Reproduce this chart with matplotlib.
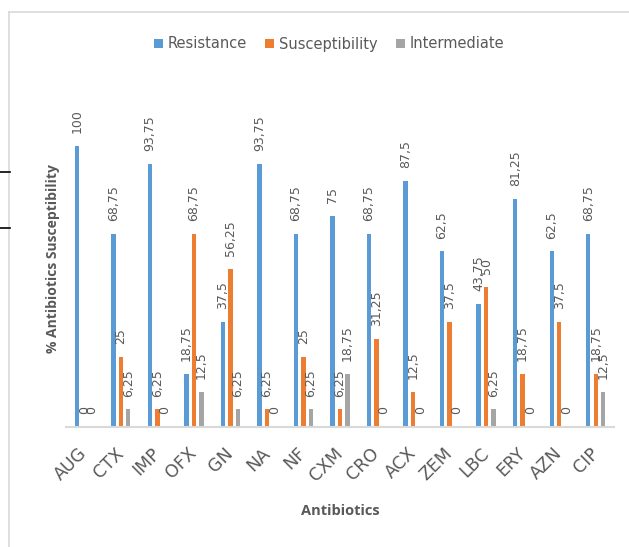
import matplotlib
matplotlib.use("Agg")
import matplotlib.pyplot as plt
import numpy as np
from matplotlib.lines import Line2D

categories = ["AUG", "CTX", "IMP", "OFX", "GN", "NA", "NF", "CXM", "CRO",
              "ACX", "ZEM", "LBC", "ERY", "AZN", "CIP"]
resistance = [100, 68.75, 93.75, 18.75, 37.5, 93.75, 68.75, 75, 68.75,
              87.5, 62.5, 43.75, 81.25, 62.5, 68.75]
susceptibility = [0, 25, 6.25, 68.75, 56.25, 6.25, 25, 6.25, 31.25,
                  12.5, 37.5, 50, 18.75, 37.5, 18.75]
intermediate = [0, 6.25, 0, 12.5, 6.25, 0, 6.25, 18.75, 0,
                0, 0, 6.25, 0, 0, 12.5]
series_names = ["Resistance", "Susceptibility", "Intermediate"]
colors = ["#5B9BD5", "#ED7D31", "#A5A5A5"]
text_color = "#595959"

W, H = 629, 547
fig = plt.figure(figsize=(W / 100, H / 100), dpi=100)
ax = fig.add_axes([66 / W, (H - 427) / H, (614 - 66) / W, (427 - 90) / H])

x = np.arange(len(categories))
offsets = [-0.205, 0.0, 0.205]
width = 0.12

def fmt(v):
    return ("%g" % v).replace(".", ",")

for vals, off, col, name in zip([resistance, susceptibility, intermediate],
                                offsets, colors, series_names):
    ax.bar(x + off, vals, width, color=col, label=name)
    for xi, v in zip(x + off, vals):
        ax.text(xi, v + 4.6, fmt(v), rotation=90, ha="center", va="bottom",
                fontsize=9, color=text_color, family="DejaVu Sans")

ax.set_xlim(-0.5, len(categories) - 0.5)
ax.set_ylim(0, 120)
ax.set_yticks([])
for s in ["top", "right", "left"]:
    ax.spines[s].set_visible(False)
ax.spines["bottom"].set_color("#D9D9D9")
ax.spines["bottom"].set_linewidth(1.5)
ax.set_xticks(x)
ax.set_xticklabels(categories, rotation=45, ha="right", va="center",
                   rotation_mode="anchor", fontsize=12.5, color=text_color,
                   family="DejaVu Sans")
ax.tick_params(axis="x", length=0, pad=17)

ax.set_ylabel("% Antibiotics Susceptibility", fontsize=10, fontweight="bold",
              color=text_color, labelpad=4, family="Open Sans")
ax.set_xlabel("Antibiotics", fontsize=10.5, fontweight="bold", color=text_color,
              family="Open Sans", labelpad=14)

leg = fig.legend(loc="center", bbox_to_anchor=(329 / W, 1 - 44 / H), ncol=3,
                 frameon=False, fontsize=10.5, handlelength=0.6, handleheight=0.6,
                 handletextpad=0.3, columnspacing=1.3)
for t in leg.get_texts():
    t.set_color(text_color)

# chart area border (left and top edges)
fig.add_artist(Line2D([9 / W, 9 / W], [0, 1 - 12 / H], transform=fig.transFigure,
                      color="#D9D9D9", lw=1.2))
fig.add_artist(Line2D([9 / W, 1], [1 - 12 / H, 1 - 12 / H], transform=fig.transFigure,
                      color="#D9D9D9", lw=1.2))
# small black marks at left edge
for yy in [172, 228]:
    fig.add_artist(Line2D([0, 10 / W], [1 - yy / H, 1 - yy / H], transform=fig.transFigure,
                          color="black", lw=1.2))

fig.savefig("out.png", dpi=100)
